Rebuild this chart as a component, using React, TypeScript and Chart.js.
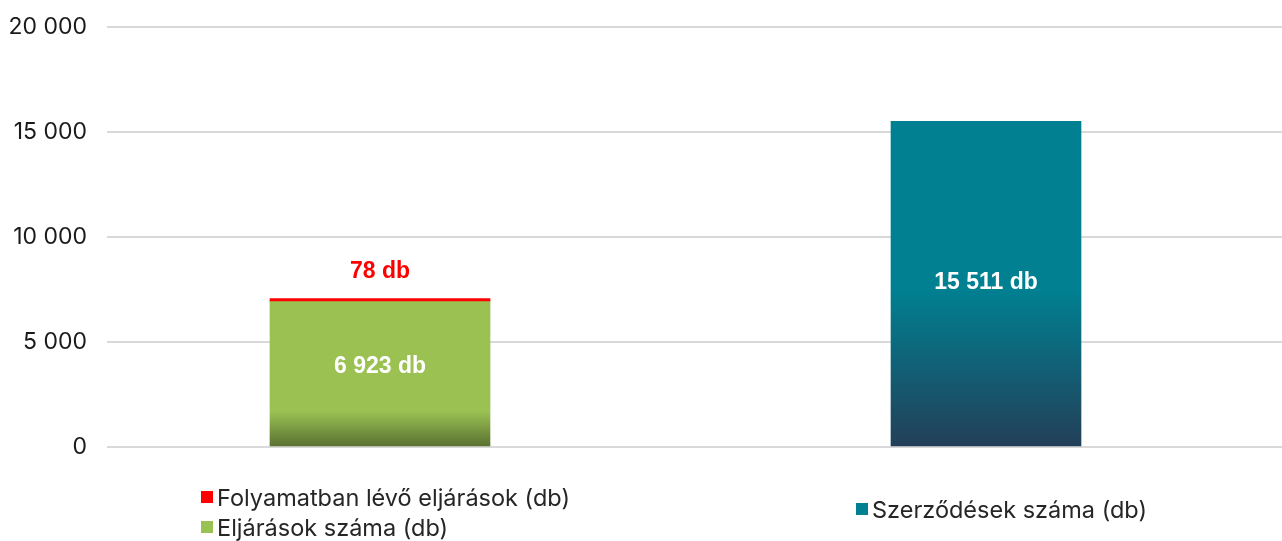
import React, { useEffect, useRef } from "react";
import { Chart, registerables } from "chart.js";

Chart.register(...registerables);

const leftCategories = ["Eljárások"];
const rightCategories = ["Szerződések"];
const procedureCounts = [6923];
const ongoingCounts = [78];
const contractCounts = [15511];
const yTickValues = [0, 5000, 10000, 15000, 20000];

const seriesNames = {
  ongoing: "Folyamatban lévő eljárások (db)",
  procedures: "Eljárások száma (db)",
  contracts: "Szerződések száma (db)",
};

const fmt = (v: number) => String(v).replace(/\B(?=(\d{3})+(?!\d))/g, " ");

const GREEN = "#9bc153";
const GREEN_DARK = "#587030";
const TEAL = "#008091";
const TEAL_DARK = "#233f58";
const RED = "#ff0000";
const GRID = "#d9d9d9";
const FONT = "Inter, 'Noto Sans', sans-serif";

function gradientFill(top: string, bottom: string, startValue: number) {
  return (ctx: any) => {
    const chart = ctx.chart;
    const { chartArea, scales } = chart;
    if (!chartArea) return top;
    const y0 = scales.y.getPixelForValue(startValue);
    const y1 = scales.y.getPixelForValue(0);
    const g = chart.ctx.createLinearGradient(0, y0, 0, y1);
    g.addColorStop(0, top);
    g.addColorStop(1, bottom);
    return g;
  };
}

const valueLabels = {
  id: "valueLabels",
  afterDatasetsDraw(chart: any) {
    const { ctx } = chart;
    chart.data.datasets.forEach((ds: any, i: number) => {
      const meta = chart.getDatasetMeta(i);
      meta.data.forEach((el: any, j: number) => {
        const v = ds.data[j];
        if (v === null || v === undefined) return;
        ctx.save();
        ctx.font = "bold 23px 'Liberation Sans', Arial, sans-serif";
        ctx.textAlign = "center";
        ctx.textBaseline = "middle";
        ctx.fillStyle = ds.labelColor;
        const text = fmt(v) + " db";
        if (ds.labelPos === "top") {
          ctx.fillText(text, el.x, el.y - 27);
        } else {
          ctx.fillText(text, el.x, (el.y + el.base) / 2 + (ds.labelShift || 0));
        }
        ctx.restore();
      });
    });
  },
};

function yAxis(showLabels: boolean, width: number) {
  return {
    stacked: true,
    min: 0,
    max: 20000,
    border: { display: false },
    grid: { color: GRID, lineWidth: 2, drawTicks: false },
    afterFit: (scale: any) => {
      scale.width = width;
      scale.paddingTop = 0;
      scale.paddingBottom = 0;
    },
    afterBuildTicks: (scale: any) => {
      scale.ticks = yTickValues.map((v) => ({ value: v }));
    },
    ticks: {
      padding: 20,
      color: showLabels ? "#1a1a1a" : "rgba(0,0,0,0)",
      font: { family: FONT, size: 23 },
      callback: (v: any) => fmt(Number(v)),
    },
  };
}

const layoutPadding = { top: 27, bottom: 94, left: 0, right: 0 };

function LegendItem({ color, label }: { color: string; label: string }) {
  return (
    <div style={{ display: "flex", alignItems: "center", height: 30 }}>
      <span style={{ display: "inline-block", width: 12, height: 12, background: color, marginRight: 4 }} />
      <span>{label}</span>
    </div>
  );
}

export default function App() {
  const leftRef = useRef<HTMLCanvasElement | null>(null);
  const rightRef = useRef<HTMLCanvasElement | null>(null);

  useEffect(() => {
    if (!leftRef.current || !rightRef.current) return;
    const left = new Chart(leftRef.current, {
      type: "bar",
      data: {
        labels: leftCategories,
        datasets: [
          {
            label: seriesNames.procedures,
            data: procedureCounts,
            backgroundColor: gradientFill(GREEN, GREEN_DARK, 1700),
            barThickness: 220,
            labelColor: "#ffffff",
            labelPos: "center",
            labelShift: -7,
          } as any,
          {
            label: seriesNames.ongoing,
            data: ongoingCounts,
            backgroundColor: RED,
            barThickness: 220,
            minBarLength: 3,
            labelColor: RED,
            labelPos: "top",
          } as any,
        ],
      },
      options: {
        animation: false,
        responsive: false,
        maintainAspectRatio: false,
        layout: { padding: layoutPadding },
        plugins: { legend: { display: false }, tooltip: { enabled: false } },
        scales: {
          x: { stacked: true, display: false, grid: { display: false } },
          y: yAxis(true, 107) as any,
          y2: {
            position: "right",
            min: 0,
            max: 20000,
            border: { display: false },
            grid: { color: GRID, lineWidth: 2, drawOnChartArea: false, drawTicks: true, tickLength: 37 },
            afterBuildTicks: (scale: any) => {
              scale.ticks = yTickValues.map((v) => ({ value: v }));
            },
            afterFit: (scale: any) => {
              scale.width = 37;
              scale.paddingTop = 0;
              scale.paddingBottom = 0;
            },
            ticks: { display: false },
          } as any,
        },
      },
      plugins: [valueLabels],
    });
    const right = new Chart(rightRef.current, {
      type: "bar",
      data: {
        labels: rightCategories,
        datasets: [
          {
            label: seriesNames.contracts,
            data: contractCounts,
            backgroundColor: gradientFill(TEAL, TEAL_DARK, 7500),
            barThickness: 190,
            labelColor: "#ffffff",
            labelPos: "center",
            labelShift: -1,
          } as any,
        ],
      },
      options: {
        animation: false,
        responsive: false,
        maintainAspectRatio: false,
        layout: { padding: layoutPadding },
        plugins: { legend: { display: false }, tooltip: { enabled: false } },
        scales: {
          x: { stacked: true, display: false, grid: { display: false } },
          y: yAxis(false, 0) as any,
        },
      },
      plugins: [valueLabels],
    });
    return () => {
      left.destroy();
      right.destroy();
    };
  }, []);

  const legendFont: React.CSSProperties = {
    position: "absolute",
    fontFamily: FONT,
    fontSize: 23.5,
    color: "#262626",
    whiteSpace: "nowrap",
  };

  return (
    <div style={{ position: "fixed", left: 0, top: 0, width: 1282, height: 541, background: "#fff" }}>
      <canvas ref={leftRef} width={690} height={541} style={{ position: "absolute", left: 0, top: 0 }} />
      <canvas ref={rightRef} width={592} height={541} style={{ position: "absolute", left: 690, top: 0 }} />
      <div style={{ ...legendFont, left: 201, top: 482 }}>
        <LegendItem color={RED} label={seriesNames.ongoing} />
        <LegendItem color={GREEN} label={seriesNames.procedures} />
      </div>
      <div style={{ ...legendFont, left: 856, top: 494 }}>
        <LegendItem color={TEAL} label={seriesNames.contracts} />
      </div>
    </div>
  );
}
